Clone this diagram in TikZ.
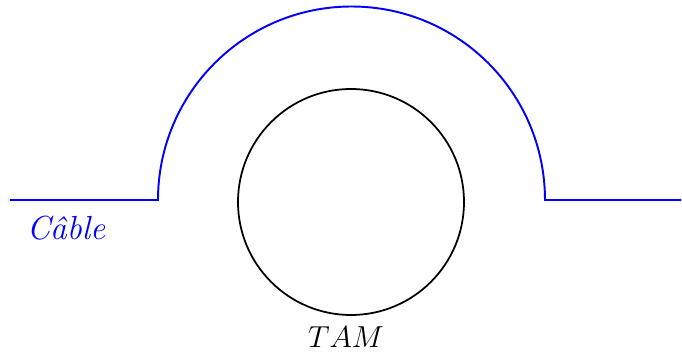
\documentclass[tikz,border=0pt]{standalone}
\begin{document}
\begin{tikzpicture}
\tikzset{cable/.style={blue, line width=1.1pt}, tam/.style={black, line width=1pt}, lbl/.style={font=\fontsize{17}{20}\selectfont}}
\useasboundingbox (0,0) rectangle (13.64,7.04);
\coordinate (L) at (0.2,3.04);
\coordinate (A) at (3.16,3.04);
\coordinate (B) at (10.9,3.04);
\coordinate (R) at (13.62,3.04);
\draw[cable] (L) -- (A) arc[start angle=180, end angle=0, radius=3.87] -- (R);
\node[tam, draw, circle, minimum size=4.52cm, inner sep=0pt] (tam) at (7.02,3.0) {};
\node[lbl, text=blue, font=\fontsize{19}{22}\selectfont] (cablelbl) at (1.32,2.48) {\itshape Câble};
\node[lbl] (tamlbl) at (6.92,0.3) {$TAM$};
\end{tikzpicture}
\end{document}
